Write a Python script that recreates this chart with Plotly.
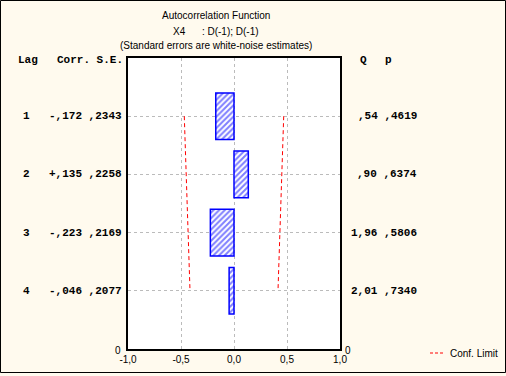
import plotly.graph_objects as go

# ---- data ----
lags = [1, 2, 3, 4]
corr = [-0.172, 0.135, -0.223, -0.046]
se = [0.2343, 0.2258, 0.2169, 0.2077]
conf_limit = [0.469, 0.452, 0.434, 0.415]
corr_labels = ["-,172", "+,135", "-,223", "-,046"]
se_labels = [",2343", ",2258", ",2169", ",2077"]
q_labels = [",54", ",90", "1,96", "2,01"]
p_labels = [",4619", ",6374", ",5806", ",7340"]
x_tickvals = [-1.0, -0.5, 0.0, 0.5, 1.0]
x_ticktext = ["-1,0", "-0,5", "0,0", "0,5", "1,0"]

W, H = 506, 376
L, R, T, B = 128, 340, 58, 349


def px(x):
    return (x - L) / (R - L)


def py(y):
    return (B - y) / (B - T)


BG = "#FFFAEE"
MONO = dict(family="Liberation Mono", size=11, color="black")
SANS = dict(family="Liberation Sans", size=10, color="black")

fig = go.Figure()

fig.add_trace(go.Bar(
    x=corr, y=lags, orientation="h", width=0.8, base=0,
    marker=dict(color="white",
                line=dict(color="#0000FF", width=1.5),
                pattern=dict(shape="/", fgcolor="#0000FF", bgcolor="white",
                             size=4, solidity=0.5)),
    showlegend=False, hoverinfo="skip"))

fig.add_trace(go.Scatter(
    x=[-c for c in conf_limit], y=lags, mode="lines",
    line=dict(color="red", width=1, dash="4px,3px"),
    showlegend=False, hoverinfo="skip"))
fig.add_trace(go.Scatter(
    x=conf_limit, y=lags, mode="lines",
    line=dict(color="red", width=1, dash="4px,3px"),
    showlegend=False, hoverinfo="skip"))

ann = []
for txt, yy in [("Autocorrelation Function", 15),
                ("X4&nbsp;&nbsp;&nbsp;&nbsp;&nbsp;&nbsp;: D(-1); D(-1)", 31),
                ("(Standard errors are white-noise estimates)", 46)]:
    ann.append(dict(text=txt, x=px(216), y=py(yy), xref="paper", yref="paper",
                    showarrow=False, xanchor="center", yanchor="middle", font=SANS))


def mono_ann(text, x, y, anchor, yref="paper"):
    return dict(text=text, x=px(x), y=y, xref="paper", yref=yref, showarrow=False,
                xanchor=anchor, yanchor="middle", font=MONO)


ann.append(mono_ann("<b>Lag</b>", 16, py(60), "left"))
ann.append(mono_ann("<b>Corr. S.E.</b>", 55, py(60), "left"))
ann.append(mono_ann("<b>Q</b>", 363, py(60), "center"))
ann.append(mono_ann("<b>p</b>", 388, py(60), "center"))
for i, lag in enumerate(lags):
    ann.append(mono_ann("<b>%d</b>" % lag, 26, lag, "center", yref="y"))
    ann.append(mono_ann("<b>%s %s</b>" % (corr_labels[i], se_labels[i]), 47, lag, "left", yref="y"))
    ann.append(mono_ann("<b>%s %s</b>" % (q_labels[i], p_labels[i]), 419, lag, "right", yref="y"))
for xx in (118, 348):
    ann.append(dict(text="0", x=px(xx), y=py(350), xref="paper", yref="paper", showarrow=False,
                    xanchor="center", yanchor="middle", font=SANS))
# legend
ann.append(dict(text="Conf. Limit", x=px(448), y=py(353), xref="paper", yref="paper",
                showarrow=False, xanchor="left", yanchor="middle",
                font=dict(family="Liberation Sans", size=10, color="black")))

shapes = [
    dict(type="rect", xref="paper", yref="paper",
         x0=px(0.5), x1=px(505.5), y0=py(0.5), y1=py(372.5),
         line=dict(color="black", width=1), fillcolor="rgba(0,0,0,0)", layer="below"),
    dict(type="line", xref="paper", yref="paper",
         x0=px(430), x1=px(444), y0=py(353), y1=py(353),
         line=dict(color="red", width=1, dash="3px,2px")),
]

fig.update_layout(
    width=W, height=H,
    margin=dict(l=L, r=W - R, t=T, b=H - B, pad=0),
    paper_bgcolor=BG, plot_bgcolor="white",
    separators=",.",
    showlegend=False,
    annotations=ann, shapes=shapes,
    xaxis=dict(range=[-1, 1], tickvals=x_tickvals, ticktext=x_ticktext,
               showgrid=True, gridcolor="#BBBBBB", griddash="3px,3px", gridwidth=1,
               zeroline=False, showline=True, linecolor="black", linewidth=1.5, mirror=True,
               ticks="", tickfont=SANS, fixedrange=True),
    yaxis=dict(range=[5, 0], tickvals=lags, showticklabels=False,
               showgrid=True, gridcolor="#BBBBBB", griddash="3px,3px", gridwidth=1,
               zeroline=False, showline=True, linecolor="black", linewidth=1.5, mirror=True,
               ticks="", fixedrange=True),
)

fig.write_html("out.html", config={"displayModeBar": False},
               post_script="document.body.style.margin='0';document.body.style.overflow='hidden';")
